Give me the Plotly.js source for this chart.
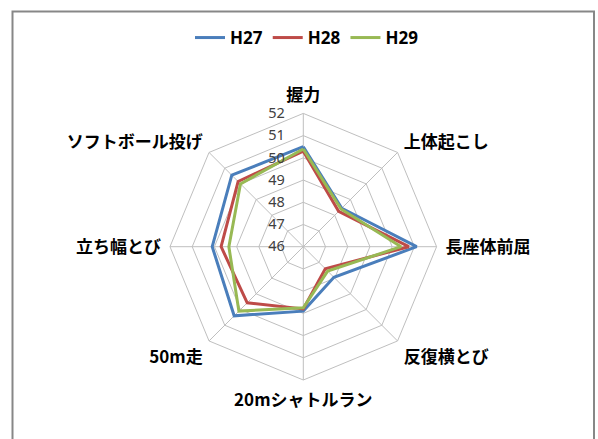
<!DOCTYPE html>
<html>
<head>
<meta charset="utf-8">
<script src="https://cdn.plot.ly/plotly-3.0.1.min.js"></script>
<style>
  html, body { margin: 0; padding: 0; background: #fff; }
  #chart { width: 598px; height: 439px; }
</style>
</head>
<body>
<div id="chart"></div>
<script>
// Fitness test categories, clockwise from the top
const categories = ['握力', '上体起こし', '長座体前屈', '反復横とび', '20mシャトルラン', '50m走', '立ち幅とび', 'ソフトボール投げ'];

// T-score style values per year
const h27 = [50.5, 48.45, 51.1, 47.95, 48.9, 50.4, 50.1, 50.55];
const h28 = [50.3, 48.25, 50.75, 47.4, 48.8, 49.57, 49.7, 50.15];
const h29 = [50.4, 48.4, 50.4, 47.55, 48.75, 50.1, 49.35, 50.0];

const seriesNames = ['H27', 'H28', 'H29'];
const seriesColors = ['#4A7EBB', '#BE4B48', '#98B954'];
const tickVals = [46, 47, 48, 49, 50, 51, 52];

// close each polygon by repeating its first point
function closed(arr) { return arr.concat([arr[0]]); }

const traces = [h27, h28, h29].map((vals, i) => ({
  type: 'scatterpolar',
  mode: 'lines',
  name: seriesNames[i],
  r: closed(vals),
  theta: closed(categories),
  line: { color: seriesColors[i], width: 3 },
  hoverinfo: 'skip'
}));

const W = 598, H = 439;
const cx = 303.3, cy = 246.7, rad = 133.3;

const layout = {
  width: W,
  height: H,
  margin: { l: 0, r: 0, t: 0, b: 0 },
  paper_bgcolor: '#ffffff',
  font: { family: '"Noto Sans CJK JP", "Noto Sans", sans-serif', color: '#000' },
  showlegend: true,
  legend: {
    orientation: 'h',
    x: 307 / W, xanchor: 'center',
    y: 1 - 38 / H, yanchor: 'middle',
    font: { size: 17, weight: 'bold', color: '#000', family: '"Open Sans", "Noto Sans", sans-serif' },
    itemwidth: 30,
    tracegroupgap: 0
  },
  polar: {
    domain: {
      x: [(cx - rad) / W, (cx + rad) / W],
      y: [1 - (cy + rad) / H, 1 - (cy - rad) / H]
    },
    bgcolor: 'rgba(0,0,0,0)',
    gridshape: 'linear',
    radialaxis: {
      range: [46, 52],
      tickvals: tickVals,
      ticktext: tickVals.map(String),
      angle: 90,
      side: 'counterclockwise',
      tickangle: 90,
      showline: false,
      ticks: 'outside',
      ticklen: 13,
      tickcolor: 'rgba(0,0,0,0)',
      gridcolor: '#BFBFBF',
      gridwidth: 1,
      tickfont: { size: 14.5, color: '#404040', family: '"Noto Sans", "Open Sans", sans-serif' }
    },
    angularaxis: {
      categoryorder: 'array',
      categoryarray: categories,
      rotation: 90,
      direction: 'clockwise',
      linecolor: '#BFBFBF',
      linewidth: 1,
      gridcolor: '#BFBFBF',
      gridwidth: 1,
      ticks: 'outside',
      ticklen: 5,
      tickcolor: 'rgba(0,0,0,0)',
      tickfont: { size: 17, weight: 'bold', color: '#000', family: '"Noto Sans CJK JP", sans-serif' }
    }
  },
  shapes: [{
    type: 'rect',
    xref: 'paper', yref: 'paper',
    x0: 12.5 / W, x1: 594 / W,
    y0: -0.05, y1: 1 - 11.5 / H,
    line: { color: '#878787', width: 2 },
    fillcolor: 'rgba(0,0,0,0)'
  }]
};

Plotly.newPlot('chart', traces, layout, { staticPlot: true, displayModeBar: false });
</script>
</body>
</html>
